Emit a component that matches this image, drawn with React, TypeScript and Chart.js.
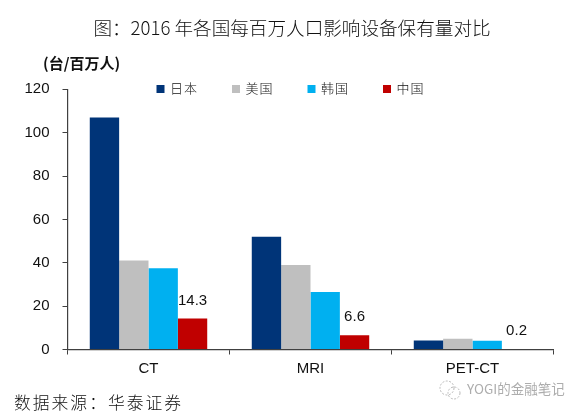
import React, { useEffect, useRef } from "react";
import { Chart, registerables, Plugin } from "chart.js";

Chart.register(...registerables);

const categories = ["CT", "MRI", "PET-CT"];
const japan = [107, 52, 4.2];
const usa = [41, 39, 5];
const korea = [37.5, 26.5, 4];
const china = [14.3, 6.6, 0.2];
const seriesNames = ["日本", "美国", "韩国", "中国"];
const seriesColors = ["#003478", "#BFBFBF", "#00B0F0", "#C00000"];
const titleText = "图：2016 年各国每百万人口影响设备保有量对比";
const unitText = "(台/百万人)";
const sourceText = "数据来源：华泰证券";
const watermarkText = "YOGI的金融笔记";

const CJK = '"Noto Sans CJK SC", sans-serif';
const LATIN = '"Liberation Sans", Arial, sans-serif';
const INK = "#111111";

const textPlugin: Plugin<"bar"> = {
  id: "chartText",
  afterLayout(chart) {
    // keep the title centred on the page rather than on the padded box
    const block = (chart as any).titleBlock;
    if (block) block.left = 30.5;
  },
  afterDraw(chart) {
    const { ctx } = chart;
    ctx.save();
    ctx.textBaseline = "middle";
    ctx.textAlign = "left";

    // unit label
    ctx.fillStyle = INK;
    ctx.font = `bold 15px ${CJK}`;
    ctx.fillText(unitText, 43, 63.5);

    // legend, inside the plot area as in the reference
    ctx.font = `300 13px ${CJK}`;
    chart.data.datasets.forEach((ds, i) => {
      const x = 156.5 + i * 75.5;
      ctx.fillStyle = ds.backgroundColor as string;
      ctx.fillRect(x, 85, 8, 8);
      ctx.fillStyle = INK;
      (ctx as any).letterSpacing = "1px";
      ctx.fillText(ds.label as string, x + 13.5, 88.5);
      (ctx as any).letterSpacing = "0px";
    });

    // value labels above the China bars
    ctx.textAlign = "center";
    ctx.font = `15px ${LATIN}`;
    ctx.fillStyle = INK;
    const meta = chart.getDatasetMeta(3);
    meta.data.forEach((bar, i) => {
      ctx.fillText(String(china[i].toFixed(1)), bar.x, bar.y - 18);
    });

    // source note
    ctx.textAlign = "left";
    ctx.font = `300 16.8px ${CJK}`;
    ctx.fillStyle = INK;
    (ctx as any).letterSpacing = "2px";
    ctx.fillText(sourceText, 14, 402.5);
    (ctx as any).letterSpacing = "0px";

    // watermark
    ctx.strokeStyle = "#b8b8b8";
    ctx.lineWidth = 1;
    ctx.setLineDash([2, 1.5]);
    ctx.beginPath();
    ctx.arc(447, 388, 7, 0, Math.PI * 2);
    ctx.stroke();
    ctx.beginPath();
    ctx.arc(454, 393, 6, 0, Math.PI * 2);
    ctx.stroke();
    ctx.setLineDash([]);
    ctx.font = `13.5px ${CJK}`;
    ctx.fillStyle = "#adadad";
    ctx.fillText(watermarkText, 467, 389);
    ctx.restore();
  },
};

export default function App() {
  const ref = useRef<HTMLCanvasElement>(null);
  useEffect(() => {
    const all = [japan, usa, korea, china];
    const chart = new Chart(ref.current!, {
      type: "bar",
      data: {
        labels: categories,
        datasets: seriesNames.map((name, i) => ({
          label: name,
          data: all[i],
          backgroundColor: seriesColors[i],
          barPercentage: 1,
          categoryPercentage: 0.725,
        })),
      },
      options: {
        responsive: false,
        animation: false,
        devicePixelRatio: 1,
        layout: { padding: { left: 10.5, right: 30.5, top: 0, bottom: 0 }, autoPadding: false },
        plugins: {
          legend: { display: false },
          tooltip: { enabled: false },
          title: {
            display: true,
            text: titleText,
            color: INK,
            font: { family: CJK, size: 18.6, weight: "300" as any, lineHeight: 1.2 },
            padding: { top: 17, bottom: 50 },
          },
        },
        scales: {
          x: {
            offset: true,
            afterFit: (s: any) => { s.height = 66.5; },
            grid: { offset: true, drawOnChartArea: false, drawTicks: true, tickLength: 5, color: "#404040", lineWidth: 1 },
            border: { color: "#404040", width: 1.2 },
            ticks: { color: INK, font: { family: LATIN, size: 15 }, padding: 5, maxRotation: 0 },
          },
          y: {
            min: 0,
            max: 120,
            afterFit: (s: any) => { s.width = 57; },
            grid: { drawOnChartArea: false, drawTicks: true, tickLength: 5, color: "#404040", lineWidth: 1 },
            border: { color: "#404040", width: 1.2 },
            ticks: { stepSize: 20, color: INK, font: { family: LATIN, size: 15 }, padding: 13 },
          },
        },
      },
      plugins: [textPlugin],
    });
    return () => chart.destroy();
  }, []);
  return (
    <div style={{ position: "fixed", left: 0, top: 0, width: 584, height: 416, background: "#fff" }}>
      <canvas ref={ref} width={584} height={416} style={{ display: "block" }} />
    </div>
  );
}
